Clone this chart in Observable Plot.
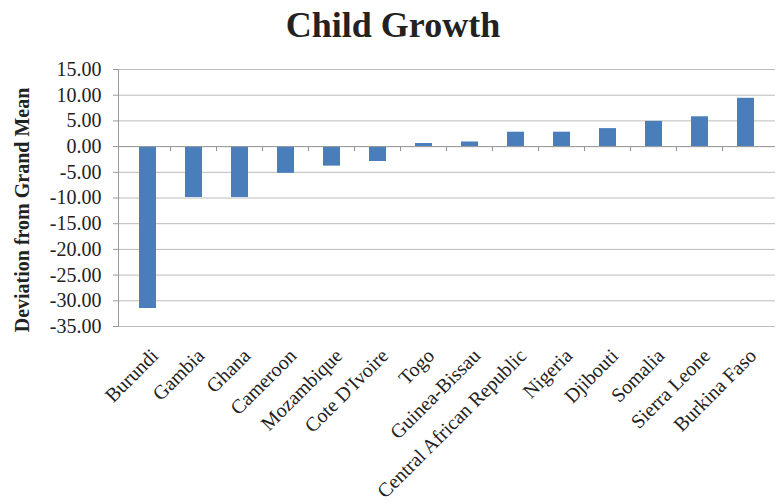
<!DOCTYPE html>
<html>
<head>
<meta charset="utf-8">
<script src="https://cdn.jsdelivr.net/npm/d3@7"></script>
<script src="https://cdn.jsdelivr.net/npm/@observablehq/plot@0.6"></script>
<style>
  body { margin: 0; background: #fff; }
  #wrap { width: 776px; height: 504px; position: relative; overflow: hidden; font-family: "Liberation Serif", serif; }
  #title { height: 55px; text-align: center; font-weight: bold; font-size: 36px; line-height: 50px; color: #222; padding-left: 10px; box-sizing: border-box; }
</style>
</head>
<body>
<div id="wrap">
  <div id="title">Child Growth</div>
  <div id="chart"></div>
</div>
<script>
const countries = ["Burundi", "Gambia", "Ghana", "Cameroon", "Mozambique", "Cote D'Ivoire", "Togo", "Guinea-Bissau", "Central African Republic", "Nigeria", "Djibouti", "Somalia", "Sierra Leone", "Burkina Faso"];
const deviations = [-31.5, -9.9, -9.9, -5.2, -3.8, -2.9, 0.6, 0.9, 2.8, 2.8, 3.5, 4.9, 5.8, 9.4];
const yTicks = [15, 10, 5, 0, -5, -10, -15, -20, -25, -30, -35];
const yLabel = "Deviation from Grand Mean";

const data = countries.map((c, i) => ({country: c, value: deviations[i]}));

const boundaryTicks = (index, scales) => {
  const x = scales.x, y = scales.y;
  const g = d3.create("svg:g").attr("stroke", "#999").attr("stroke-width", 1);
  const gap = (x.step() - x.bandwidth()) / 2;
  const y0 = y(0);
  countries.forEach((c, i) => {
    if (i === 0) return;
    const bx = x(c) - gap;
    g.append("line").attr("x1", bx).attr("x2", bx).attr("y1", y0).attr("y2", y0 + 5);
  });
  return g.node();
};

const chart = Plot.plot({
  width: 776,
  height: 449,
  marginTop: 14,
  marginBottom: 178,
  marginLeft: 118,
  marginRight: 1,
  style: { fontFamily: "Liberation Serif, serif", fontSize: "20px", color: "#222", background: "#fff" },
  x: { domain: countries, paddingInner: 0.62, paddingOuter: 0.31 },
  y: { domain: [-35, 15] },
  marks: [
    Plot.gridY(yTicks, { stroke: "#bcbcbc", strokeOpacity: 1 }),
    Plot.barY(data, { x: "country", y: "value", fill: "#4a7ebb" }),
    Plot.ruleY([0], { stroke: "#9a9a9a" }),
    boundaryTicks,
    Plot.frame({ anchor: "left", stroke: "#9a9a9a" }),
    Plot.axisY(yTicks, { tickFormat: d => d.toFixed(2), tickSize: 5, tickPadding: 12, stroke: "#9a9a9a", label: null, fontSize: 20 }),
    Plot.text([yLabel], { text: d => d, frameAnchor: "left", rotate: -90, dx: -96, dy: 12, textAnchor: "middle", lineAnchor: "middle", fontWeight: "bold", fontSize: 20, fill: "#222" }),
    Plot.axisX({ tickSize: 0, tickPadding: 26, dx: 7, tickRotate: -45, label: null, fontSize: 20 })
  ]
});
document.getElementById("chart").appendChild(chart);
</script>
</body>
</html>
